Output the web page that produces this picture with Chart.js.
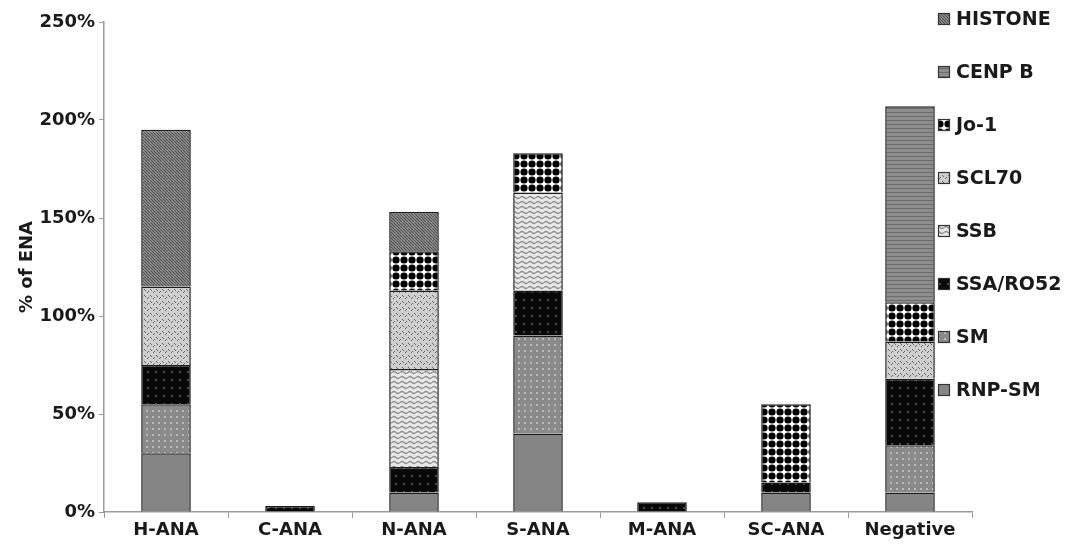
<!DOCTYPE html>
<html>
<head>
<meta charset="utf-8">
<script src="https://cdn.jsdelivr.net/npm/chart.js@4"></script>
<style>
  html, body { margin: 0; padding: 0; background: #fff; }
  #wrap { width: 1069px; height: 544px; }
</style>
</head>
<body>
<div id="wrap"><canvas id="c" width="1069" height="544"></canvas></div>
<script>
// ANA pattern groups and the share of each ENA specificity (%)
const categories = ['H-ANA', 'C-ANA', 'N-ANA', 'S-ANA', 'M-ANA', 'SC-ANA', 'Negative'];
const rnpSm   = [30, 0, 10, 40, 0, 10, 10];
const sm      = [25, 0,  0, 50, 0,  0, 24];
const ssaRo52 = [20, 3, 13, 23, 5,  5, 34];
const ssb     = [ 0, 0, 50, 50, 0,  0,  0];
const scl70   = [40, 0, 40,  0, 0,  0, 19];
const jo1     = [ 0, 0, 20, 20, 0, 40, 20];
const cenpB   = [ 0, 0,  0,  0, 0,  0, 100];
const histone = [80, 0, 20,  0, 0,  0,  0];
const yTicks  = [0, 50, 100, 150, 200, 250];

const FONT = 'DejaVu Sans';
const INK = '#1a1a1a';
const AXIS = '#9a9a9a';

// small repeating tiles used as bar fills
function tile(w, h, paint) {
  const c = document.createElement('canvas');
  c.width = w; c.height = h;
  const g = c.getContext('2d');
  paint(g, w, h);
  return g.createPattern(c, 'repeat');
}

const fills = {
  rnpSm: '#858585',
  sm: tile(6, 6, (g) => {
    g.fillStyle = '#8a8a8a'; g.fillRect(0, 0, 6, 6);
    g.fillStyle = '#bababa'; g.fillRect(2, 2, 2, 2);
  }),
  ssa: tile(8, 8, (g) => {
    g.fillStyle = '#080808'; g.fillRect(0, 0, 8, 8);
    g.fillStyle = '#4a4a4a'; g.fillRect(3, 3, 2, 2);
  }),
  ssb: tile(8, 5, (g) => {
    g.fillStyle = '#e8e8e8'; g.fillRect(0, 0, 8, 5);
    g.strokeStyle = '#8f8f8f'; g.lineWidth = 1.2;
    g.beginPath();
    g.moveTo(0, 2.5);
    g.quadraticCurveTo(2, 0.5, 4, 2.5);
    g.quadraticCurveTo(6, 4.5, 8, 2.5);
    g.stroke();
  }),
  scl70: tile(6, 6, (g) => {
    g.fillStyle = '#cfcfcf'; g.fillRect(0, 0, 6, 6);
    g.strokeStyle = '#666666'; g.lineWidth = 1;
    g.beginPath();
    g.moveTo(0, 1); g.lineTo(2, 3);
    g.moveTo(3, 5); g.lineTo(5, 3);
    g.stroke();
  }),
  jo1: tile(8, 8, (g) => {
    g.fillStyle = '#ffffff'; g.fillRect(0, 0, 8, 8);
    g.fillStyle = '#000000';
    g.beginPath(); g.arc(4, 4, 3.6, 0, Math.PI * 2); g.fill();
  }),
  cenpB: tile(4, 4, (g) => {
    g.fillStyle = '#8e8e8e'; g.fillRect(0, 0, 4, 4);
    g.fillStyle = '#6c6c6c'; g.fillRect(0, 0, 4, 1);
  }),
  histone: tile(6, 6, (g) => {
    g.fillStyle = '#9c9c9c'; g.fillRect(0, 0, 6, 6);
    g.strokeStyle = '#505050'; g.lineWidth = 1.2;
    g.beginPath();
    g.moveTo(-3, 0); g.lineTo(3, 6);
    g.moveTo(0, 0); g.lineTo(6, 6);
    g.moveTo(3, 0); g.lineTo(9, 6);
    g.stroke();
  })
};

function series(label, values, fill) {
  return {
    label,
    data: values.map(v => (v > 0 ? v : null)),
    backgroundColor: fill,
    borderColor: '#1c1c1c',
    borderWidth: 1.5
  };
}

// legend listed top-down in reverse stacking order
const sideLegend = {
  id: 'sideLegend',
  afterDraw(chart) {
    const ctx = chart.ctx;
    const ds = chart.data.datasets;
    ctx.save();
    ctx.font = 'bold 19px "' + FONT + '"';
    ctx.textBaseline = 'middle';
    ctx.textAlign = 'left';
    for (let i = 0; i < ds.length; i++) {
      const d = ds[ds.length - 1 - i];
      const y = 19 + i * 53;
      ctx.fillStyle = d.backgroundColor;
      ctx.fillRect(938, y - 6, 12, 12);
      ctx.strokeStyle = '#333';
      ctx.lineWidth = 1.2;
      ctx.strokeRect(938.5, y - 5.5, 11, 11);
      ctx.fillStyle = INK;
      ctx.fillText(d.label, 956, y + 1);
    }
    ctx.restore();
  }
};

new Chart(document.getElementById('c'), {
  type: 'bar',
  data: {
    labels: categories,
    datasets: [
      series('RNP-SM', rnpSm, fills.rnpSm),
      series('SM', sm, fills.sm),
      series('SSA/RO52', ssaRo52, fills.ssa),
      series('SSB', ssb, fills.ssb),
      series('SCL70', scl70, fills.scl70),
      series('Jo-1', jo1, fills.jo1),
      series('CENP B', cenpB, fills.cenpB),
      series('HISTONE', histone, fills.histone)
    ]
  },
  options: {
    responsive: false,
    animation: false,
    layout: { padding: { top: 22, right: 97, bottom: 0, left: 0 } },
    datasets: { bar: { barPercentage: 0.4, categoryPercentage: 1 } },
    plugins: { legend: { display: false }, tooltip: { enabled: false } },
    scales: {
      x: {
        stacked: true,
        offset: true,
        grid: { offset: true, drawOnChartArea: false, tickLength: 6, color: AXIS },
        border: { color: AXIS, width: 1.5 },
        ticks: { color: INK, font: { family: FONT, weight: 'bold', size: 18 }, padding: 2, maxRotation: 0 },
        afterFit(s) { s.height = 32; }
      },
      y: {
        stacked: true,
        min: yTicks[0],
        max: yTicks[yTicks.length - 1],
        afterBuildTicks(s) { s.ticks = yTicks.map(v => ({ value: v })); },
        ticks: { color: INK, font: { family: FONT, weight: 'bold', size: 18 }, padding: 4, callback: v => v + '%' },
        grid: { drawOnChartArea: false, tickLength: 5, color: AXIS },
        border: { color: AXIS, width: 1.5 },
        title: {
          display: true, text: '% of ENA', color: INK,
          font: { family: FONT, weight: 'bold', size: 18 },
          padding: { top: 17, bottom: 0 }
        },
        afterFit(s) { s.width = 104; }
      }
    }
  },
  plugins: [sideLegend]
});
</script>
</body>
</html>
